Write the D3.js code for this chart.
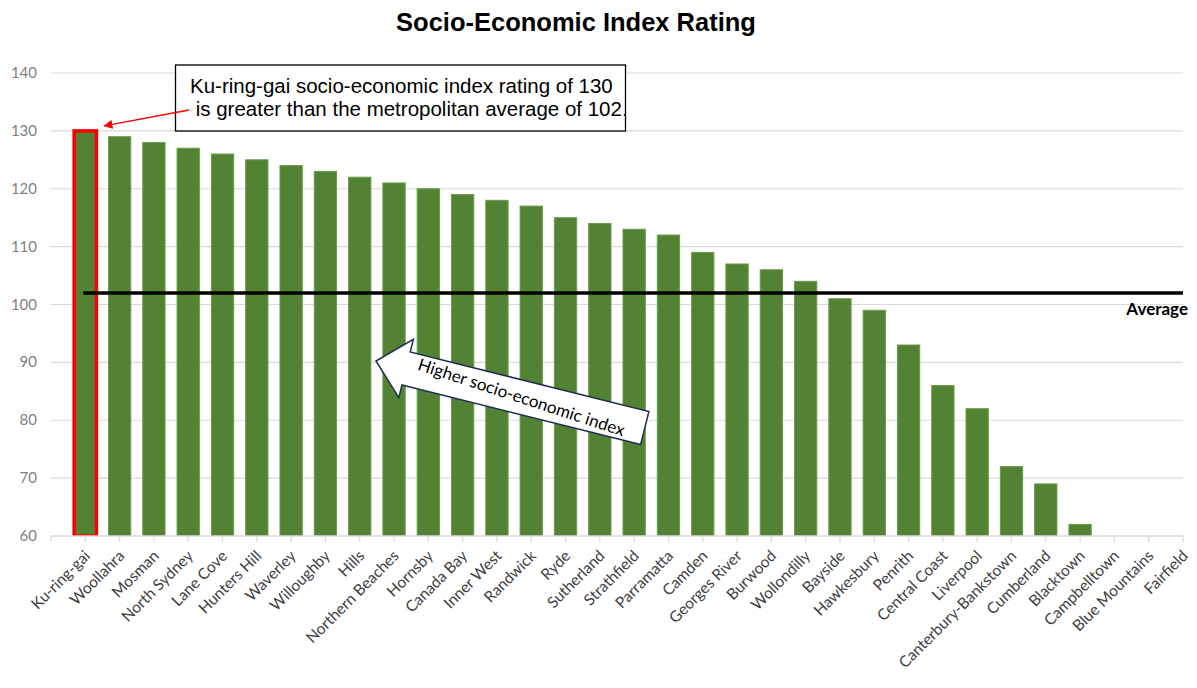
<!DOCTYPE html>
<html>
<head>
<meta charset="utf-8">
<script src="https://cdn.jsdelivr.net/npm/d3@7"></script>
<style>
  html, body { margin: 0; padding: 0; background: #fff; }
  svg { display: block; }
</style>
</head>
<body>
<svg id="chart" width="1197" height="688"></svg>
<script>
// Local government areas, ranked by socio-economic index
const categories = [
  "Ku-ring-gai", "Woollahra", "Mosman", "North Sydney", "Lane Cove", "Hunters Hill",
  "Waverley", "Willoughby", "Hills", "Northern Beaches", "Hornsby", "Canada Bay",
  "Inner West", "Randwick", "Ryde", "Sutherland", "Strathfield", "Parramatta",
  "Camden", "Georges River", "Burwood", "Wollondilly", "Bayside", "Hawkesbury",
  "Penrith", "Central Coast", "Liverpool", "Canterbury-Bankstown", "Cumberland",
  "Blacktown", "Campbelltown", "Blue Mountains", "Fairfield"
];
const indexValues = [
  130, 129, 128, 127, 126, 125,
  124, 123, 122, 121, 120, 119,
  118, 117, 115, 114, 113, 112,
  109, 107, 106, 104, 101, 99,
  93, 86, 82, 72, 69,
  62, 58, 57, 55
];
const metroAverage = 102;
const highlighted = "Ku-ring-gai";
const yTicks = [60, 70, 80, 90, 100, 110, 120, 130, 140];

const calloutLines = [
  "Ku-ring-gai socio-economic index rating of 130",
  " is greater than the metropolitan average of 102."
];
const arrowLabel = "Higher socio-economic index";

const data = categories.map((c, i) => ({ name: c, value: indexValues[i] }));

const svg = d3.select("#chart");
const plotLeft = 51, plotRight = 1183, plotTop = 73, plotBottom = 536;
const step = (plotRight - plotLeft) / categories.length;

const x = d3.scaleBand()
  .domain(categories)
  .range([plotLeft + step / 2, plotRight + step / 2])
  .paddingInner(0.35)
  .paddingOuter(0.175);
const cx = d => x(d) + x.bandwidth() / 2;

const y = d3.scaleLinear().domain([60, 140]).range([plotBottom, plotTop]);

const labelFont = "Lato, 'Open Sans', sans-serif";

// Title
svg.append("text")
  .attr("x", 576).attr("y", 31)
  .attr("text-anchor", "middle")
  .style("font-family", "Arial, 'Liberation Sans', sans-serif")
  .style("font-weight", "bold")
  .style("font-size", "25.5px")
  .attr("fill", "#000")
  .text("Socio-Economic Index Rating");

// Horizontal gridlines
svg.append("g")
  .selectAll("line")
  .data(yTicks.filter(t => t > 60))
  .join("line")
  .attr("x1", plotLeft).attr("x2", plotRight)
  .attr("y1", d => y(d)).attr("y2", d => y(d))
  .attr("stroke", "#d9d9d9").attr("stroke-width", 1.2);

// Y axis labels
svg.append("g")
  .selectAll("text")
  .data(yTicks)
  .join("text")
  .attr("x", 37).attr("y", d => y(d) + 5)
  .attr("text-anchor", "end")
  .style("font-family", labelFont)
  .style("font-size", "15px")
  .attr("fill", "#7f7f7f")
  .text(d => d);

// Bars (clipped to the plot area)
svg.append("clipPath").attr("id", "plot-clip")
  .append("rect")
  .attr("x", plotLeft).attr("y", plotTop - 5)
  .attr("width", plotRight - plotLeft + 40).attr("height", plotBottom - plotTop + 5);

svg.append("g")
  .attr("clip-path", "url(#plot-clip)")
  .selectAll("rect")
  .data(data)
  .join("rect")
  .attr("x", d => x(d.name))
  .attr("width", x.bandwidth())
  .attr("y", d => y(Math.max(d.value, 60)))
  .attr("height", d => Math.max(0, y(60) - y(d.value)))
  .attr("fill", "#548235")
  .attr("stroke", d => d.name === highlighted ? "#ff0000" : "#6a9c47")
  .attr("stroke-width", d => d.name === highlighted ? 3.5 : 1);

// X axis line and ticks
const xAxis = d3.axisBottom(x).tickSize(6).tickFormat("");
const gx = svg.append("g").attr("transform", `translate(0,${plotBottom})`).call(xAxis);
gx.select(".domain").remove();
gx.selectAll(".tick line").attr("stroke", "#d9d9d9").attr("stroke-width", 1.2);
svg.append("line")
  .attr("x1", plotLeft).attr("x2", plotRight)
  .attr("y1", plotBottom).attr("y2", plotBottom)
  .attr("stroke", "#d9d9d9").attr("stroke-width", 1.5);
svg.append("line")
  .attr("x1", plotLeft).attr("x2", plotLeft)
  .attr("y1", plotBottom).attr("y2", plotBottom + 6)
  .attr("stroke", "#d9d9d9").attr("stroke-width", 1.2);

// Rotated category labels
svg.append("g")
  .selectAll("text")
  .data(categories)
  .join("text")
  .attr("transform", d => `translate(${cx(d) + 2},${plotBottom + 17}) rotate(-45)`)
  .attr("text-anchor", "end")
  .attr("dy", "0.35em")
  .style("font-family", labelFont)
  .style("font-size", "15.5px")
  .attr("fill", "#404040")
  .text(d => d);

// Metropolitan average line
svg.append("line")
  .attr("x1", cx(categories[0]) - 2).attr("x2", plotRight)
  .attr("y1", y(metroAverage)).attr("y2", y(metroAverage))
  .attr("stroke", "#000").attr("stroke-width", 3.5);
svg.append("text")
  .attr("x", 1188).attr("y", y(metroAverage) + 22)
  .attr("text-anchor", "end")
  .style("font-family", labelFont)
  .style("font-weight", "bold")
  .style("font-size", "17px")
  .attr("fill", "#000")
  .text("Average");

// Callout box
svg.append("rect")
  .attr("x", 175.5).attr("y", 65)
  .attr("width", 450).attr("height", 66)
  .attr("fill", "#fff").attr("stroke", "#000").attr("stroke-width", 1.3);
svg.append("g")
  .selectAll("text")
  .data(calloutLines)
  .join("text")
  .attr("x", 190).attr("y", (d, i) => 93 + i * 23)
  .attr("text-anchor", "start")
  .attr("xml:space", "preserve")
  .style("white-space", "pre")
  .style("font-family", "Arial, 'Liberation Sans', sans-serif")
  .style("font-size", "20.5px")
  .attr("fill", "#000")
  .text(d => d);

// Red pointer from callout to the highlighted bar
svg.append("defs").append("marker")
  .attr("id", "red-head")
  .attr("viewBox", "0 0 10 10")
  .attr("refX", 9).attr("refY", 5)
  .attr("markerWidth", 7.5).attr("markerHeight", 6)
  .attr("markerUnits", "strokeWidth")
  .attr("orient", "auto")
  .append("path").attr("d", "M0,0 L10,5 L0,10 Z").attr("fill", "#ff0000");
svg.append("line")
  .attr("x1", 189).attr("y1", 110)
  .attr("x2", cx(highlighted) + 19).attr("y2", y(130) - 5)
  .attr("stroke", "#ff0000").attr("stroke-width", 1.5)
  .attr("marker-end", "url(#red-head)");

// Block arrow pointing toward higher-ranked areas
const arrow = svg.append("g")
  .attr("transform", "translate(376,361) rotate(14)");
const headLen = 31, headHalf = 30, shaftHalf = 17, arrowLen = 277;
arrow.append("path")
  .attr("d", `M0,0 L${headLen},${-headHalf} L${headLen},${-shaftHalf} L${arrowLen},${-shaftHalf}
              L${arrowLen},${shaftHalf} L${headLen},${shaftHalf} L${headLen},${headHalf} Z`)
  .attr("fill", "#fff").attr("stroke", "#1f3251").attr("stroke-width", 1.5)
  .attr("stroke-linejoin", "miter");
arrow.append("text")
  .attr("x", 150).attr("y", 0)
  .attr("text-anchor", "middle")
  .attr("dy", "0.35em")
  .attr("transform", "rotate(4,150,0)")
  .style("font-family", labelFont)
  .style("font-size", "17px")
  .attr("fill", "#000")
  .text(arrowLabel);
</script>
</body>
</html>
